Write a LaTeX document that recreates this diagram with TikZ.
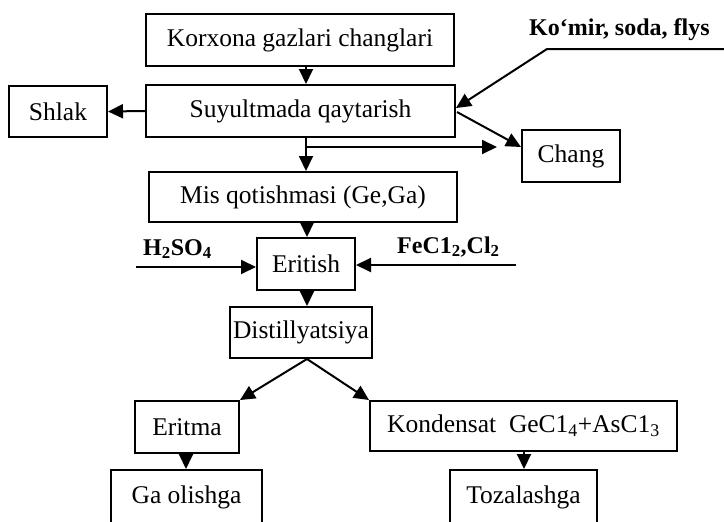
\documentclass[tikz,border=0pt]{standalone}
\usepackage{fontspec}
\setmainfont{Liberation Serif}
\usetikzlibrary{arrows.meta,calc}
\begin{document}
\begin{tikzpicture}[x=1pt,y=-1pt,
  box/.style={draw,line width=2pt,inner sep=0pt,font=\fontsize{25.5}{30}\selectfont},
  arr/.style={line width=2pt,-{Triangle[length=15pt,width=14pt]}},
  lbl/.style={font=\fontsize{24}{28}\selectfont\bfseries,inner sep=0pt,anchor=base west}]
\useasboundingbox (0,0) rectangle (724,522);
% boxes
\node[box,minimum width=308pt,minimum height=52pt] (kor) at (300,40) {Korxona gazlari changlari};
\node[box,minimum width=309pt,minimum height=52pt] (suy) at (300.5,111) {Suyultmada qaytarish};
\node[box,minimum width=98pt,minimum height=51pt] (shl) at (58,111.5) {Shlak};
\node[box,minimum width=98pt,minimum height=52pt] (cha) at (571,156) {Chang};
\node[box,minimum width=308pt,minimum height=50pt] (mis) at (303,197) {Mis qotishmasi (Ge,Ga)};
\node[box,minimum width=98pt,minimum height=52pt] (eri) at (306,264) {Eritish};
\node[box,minimum width=142pt,minimum height=51pt] (dis) at (301,332.5) {Distillyatsiya};
\node[box,minimum width=104pt,minimum height=52pt] (etm) at (187,427) {Eritma};
\node[box,minimum width=307pt,minimum height=50pt] (kon) at (523.5,426) {Kondensat\ \ GeC1\textsubscript{4}+AsC1\textsubscript{3}};
\node[box,minimum width=151pt,minimum height=54pt] (ga) at (186.5,497) {\raisebox{4pt}{Ga olishga}};
\node[box,minimum width=147pt,minimum height=54pt] (toz) at (523.5,497) {\raisebox{4pt}{Tozalashga}};
% labels
\node[lbl] (h2) at (143,255) {H\textsubscript{2}SO\textsubscript{4}};
\node[lbl] (fe) at (397,253) {FeC1\textsubscript{2},Cl\textsubscript{2}};
\node[lbl] (kom) at (529,35) {Ko‘mir, soda, flys};
% helper coordinates
\coordinate (c1) at (306,0);
\coordinate (c2) at (307,0);
\coordinate (c3) at (186,0);
\coordinate (c4) at (524,0);
\coordinate (br) at (306,147);
\coordinate (chg) at (497,147);
\coordinate (kr) at (724,49);
\coordinate (kb) at (547,49);
\coordinate (hs) at (136,267);
\coordinate (fs) at (516,265);
% connectors
\draw[arr] (kor.south -| c1) -- (suy.north -| c1);
\draw[arr] (suy.west) -- (shl.east);
\draw[arr] (suy.south -| c1) -- (mis.north -| c1);
\draw[arr] (br) -- (chg);
\draw[arr] (kr) -- (kb) -- ($(suy.east)+(0,-3)$);
\draw[arr] ($(suy.east)+(1,1)$) -- ($(cha.west)+(0,-9)$);
\draw[arr] (mis.south -| c2) -- (eri.north -| c2);
\draw[arr] (eri.south -| c2) -- (dis.north -| c2);
\draw[arr] (hs) -- (eri.west |- hs);
\draw[arr] (fs) -- (eri.east |- fs);
\coordinate (dp) at (dis.south -| c2);
\draw[arr] (dp) -- (etm.north east);
\draw[arr] (dp) -- (kon.north west);
\draw[arr] (etm.south -| c3) -- (ga.north -| c3);
\draw[arr] (kon.south -| c4) -- (toz.north -| c4);
\end{tikzpicture}
\end{document}
